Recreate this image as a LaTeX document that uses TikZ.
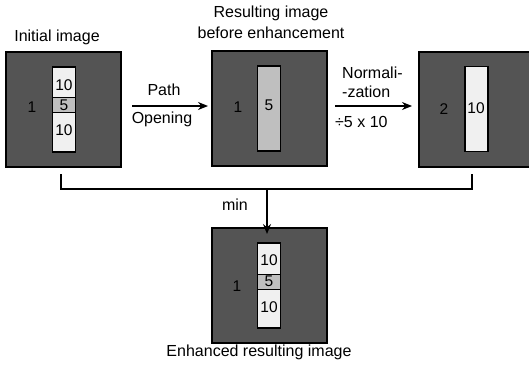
\documentclass[tikz,border=0pt]{standalone}
\usepackage{fontspec}
\setmainfont{Liberation Sans}
\usetikzlibrary{arrows.meta,calc}
\begin{document}
\begin{tikzpicture}[x=1pt,y=-1pt,
  bigbox/.style={draw=black,line width=1.3pt,fill=black!67,minimum width=115pt,minimum height=115pt,inner sep=0pt,outer sep=0pt},
  strip/.style={draw=black,line width=1.2pt,fill=black!6,minimum width=23pt,minimum height=85pt,inner sep=0pt,outer sep=0pt},
  seg/.style={draw=black,line width=0.8pt,fill=black!25,minimum width=23pt,minimum height=15pt,inner sep=0pt},
  lbl/.style={font=\fontsize{16}{19}\selectfont,inner sep=0pt},
  num/.style={font=\fontsize{15.5}{18}\selectfont,inner sep=0pt},
  conn/.style={line width=1.3pt},
  arr/.style={line width=1.3pt,-{Stealth[length=10pt,width=8pt]}}]
\clip (0,0) rectangle (529,369);
\useasboundingbox (0,0) rectangle (529,369);
% box 1
\node[bigbox] (b1) at (63.5,109.5) {};
\node[strip] (s1) at (64,109.5) {};
\node[seg] (g1) at (64,105) {};
\node[num] (t1a) at (64,85) {10};
\node[num] (t1b) at (64,105) {5};
\node[num] (t1c) at (64,130) {10};
\node[num] (o1) at (32,107) {1};
\node[lbl] (c1) at (57,37) {Initial image};
% box 2
\node[bigbox] (b2) at (269.5,108.5) {};
\node[strip,fill=black!25] (s2) at (269,108.5) {};
\node[num] (t2) at (269,105) {5};
\node[num] (o2) at (238,107) {1};
\node[lbl] (c2a) at (271,13) {Resulting image};
\node[lbl] (c2b) at (271,33) {before enhancement};
% box 3
\node[bigbox] (b3) at (476.5,109.5) {};
\node[strip] (s3) at (476.5,109) {};
\node[num] (t3) at (476,108) {10};
\node[num] (o3) at (444,109) {2};
% box 4
\node[bigbox] (b4) at (269.5,285.5) {};
\node[strip] (s4) at (269,285.5) {};
\node[seg] (g4) at (269,281.5) {};
\node[num] (t4a) at (269,260) {10};
\node[num] (t4b) at (269,281.5) {5};
\node[num] (t4c) at (269,307) {10};
\node[num] (o4) at (237,286) {1};
\node[lbl] (c4) at (259,352) {Enhanced resulting image};
% arrows
\draw[arr] (132,106) coordinate (a1s) -- (208,106) coordinate (a1e);
\node[lbl] (p1) at (164,90) {Path};
\node[lbl] (p2) at (162,119) {Opening};
\draw[arr] (335,106) coordinate (a2s) -- (412,106) coordinate (a2e);
\node[lbl,anchor=west,align=left] (n1) at (342,82) {Normali-\\-zation};
\node[lbl,anchor=west] (n2) at (335,122) {\raisebox{0pt}{÷}5 x 10};
% min connector
\coordinate (j) at (267,189);
\draw[conn] (61,174) -- (61,189) -- (472,189) -- (472,174);
\draw[arr] (j) -- ([yshift=-6pt]b4.north -| j);
\node[lbl] (m) at (235,205) {min};
\end{tikzpicture}
\end{document}
